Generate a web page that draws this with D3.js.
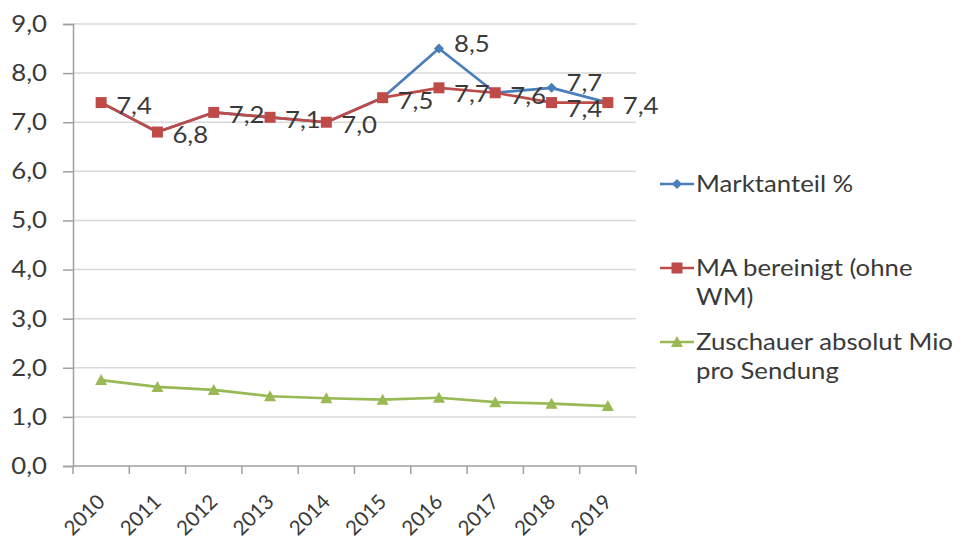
<!DOCTYPE html>
<html>
<head>
<meta charset="utf-8">
<script src="https://cdn.jsdelivr.net/npm/d3@7"></script>
<style>
    body { margin: 0; background: #fff; }
    svg { font-family: Lato, "Liberation Sans", sans-serif; }
</style>
</head>
<body>
<svg id="chart" width="963" height="543"></svg>
<script>
// Chart data
const years = ['2010', '2011', '2012', '2013', '2014', '2015', '2016', '2017', '2018', '2019'];
const marktanteil = [7.4, 6.8, 7.2, 7.1, 7.0, 7.5, 8.5, 7.6, 7.7, 7.4];
const maBereinigt = [7.4, 6.8, 7.2, 7.1, 7.0, 7.5, 7.7, 7.6, 7.4, 7.4];
const zuschauer = [1.75, 1.61, 1.55, 1.42, 1.38, 1.35, 1.39, 1.30, 1.27, 1.22];
const yTicks = [0, 1, 2, 3, 4, 5, 6, 7, 8, 9];

const series = [
    { name: ['Marktanteil %'], values: marktanteil, color: '#4a7ebb', marker: 'diamond' },
    { name: ['MA bereinigt (ohne', 'WM)'], values: maBereinigt, color: '#be4b48', marker: 'square' },
    { name: ['Zuschauer absolut Mio', 'pro Sendung'], values: zuschauer, color: '#98b954', marker: 'triangle' }
];

const fmt = v => v.toFixed(1).replace('.', ',');
const FONT = 23;
const SX = 1.12; // the reference text is a bit wide

const svg = d3.select('#chart');
const plot = { left: 73, right: 636, top: 24, bottom: 466 };

const x = d3.scaleBand()
    .domain(years)
    .range([plot.left, plot.right]);

const y = d3.scaleLinear()
    .domain([0, 9])
    .range([plot.bottom, plot.top]);

const cx = d => x(d) + x.bandwidth() / 2;

// widen a text horizontally around its anchor point
function widen(sel, ax, ay) {
    sel.attr('transform', `translate(${ax},${ay}) scale(${SX},1) translate(${-ax},${-ay})`);
}

// Gridlines
svg.append('g')
    .selectAll('line')
    .data(yTicks.filter(t => t > 0))
    .join('line')
    .attr('x1', plot.left)
    .attr('x2', plot.right)
    .attr('y1', d => y(d))
    .attr('y2', d => y(d))
    .attr('stroke', '#d9d9d9')
    .attr('stroke-width', 1.5);

// Y axis
const yAxis = svg.append('g')
    .attr('transform', `translate(${plot.left},0)`)
    .call(d3.axisLeft(y).tickValues(yTicks).tickFormat(fmt).tickSize(10).tickPadding(16));
yAxis.select('.domain').attr('stroke', '#a0a0a0').attr('stroke-width', 1.5);
yAxis.selectAll('.tick line').attr('stroke', '#a0a0a0').attr('stroke-width', 1.5);
yAxis.selectAll('.tick text')
    .attr('font-size', FONT)
    .attr('fill', '#3a3a3a')
    .attr('font-family', 'Lato, "Liberation Sans", sans-serif')
    .each(function() {
        widen(d3.select(this), -26, 0);
    });

// X axis with ticks at band edges
const xAxis = svg.append('g')
    .attr('transform', `translate(0,${plot.bottom})`);
xAxis.append('line')
    .attr('x1', plot.left)
    .attr('x2', plot.right)
    .attr('stroke', '#a0a0a0')
    .attr('stroke-width', 1.5);
xAxis.selectAll('line.edge')
    .data(years.concat(['end']))
    .join('line')
    .attr('class', 'edge')
    .attr('x1', (d, i) => i < years.length ? x(d) : x.range()[1])
    .attr('x2', (d, i) => i < years.length ? x(d) : x.range()[1])
    .attr('y1', 0)
    .attr('y2', 8)
    .attr('stroke', '#a0a0a0')
    .attr('stroke-width', 1.5);
xAxis.selectAll('text')
    .data(years)
    .join('text')
    .attr('transform', d => `translate(${cx(d) + 5},37) rotate(-45)`)
    .attr('text-anchor', 'end')
    .attr('font-size', 20.5)
    .attr('fill', '#3a3a3a')
    .text(d => d);

// Marker drawing
function drawMarker(g, type, color) {
    if (type === 'diamond') {
        g.append('path').attr('d', 'M0,-5L5,0L0,5L-5,0Z').attr('fill', color);
    } else if (type === 'square') {
        g.append('rect').attr('x', -5.5).attr('y', -5.5).attr('width', 11).attr('height', 11).attr('fill', color);
    } else {
        g.append('path').attr('d', 'M0,-6L6,5L-6,5Z').attr('fill', color);
    }
}

const line = d3.line()
    .x((d, i) => cx(years[i]))
    .y(d => y(d));

// Lines and markers
series.forEach(s => {
    const g = svg.append('g');
    g.append('path')
        .datum(s.values)
        .attr('d', line)
        .attr('fill', 'none')
        .attr('stroke', s.color)
        .attr('stroke-width', 2.7)
        .attr('stroke-linejoin', 'round');
    s.values.forEach((v, i) => {
        const m = g.append('g')
            .attr('transform', `translate(${cx(years[i])},${y(v)})`);
        drawMarker(m, s.marker, s.color);
    });
});

// Data labels: all of MA bereinigt, plus Marktanteil where it differs
const labels = svg.append('g')
    .attr('font-size', FONT)
    .attr('fill', '#3a3a3a');
function addLabel(i, v, shift) {
    const lx = cx(years[i]) + 15;
    const ly = y(v) + shift;
    labels.append('text')
        .attr('x', lx)
        .attr('y', ly)
        .attr('dy', '0.35em')
        .text(fmt(v))
        .call(widen, lx, ly);
}
marktanteil.forEach((v, i) => {
    if (v !== maBereinigt[i]) addLabel(i, v, -5);
});
maBereinigt.forEach((v, i) => addLabel(i, v, marktanteil[i] > v ? 6 : 3));

// Legend
const legend = svg.append('g').attr('transform', 'translate(660,0)');
const legendY = [184, 268, 342];
series.forEach((s, i) => {
    const g = legend.append('g').attr('transform', `translate(0,${legendY[i]})`);
    g.append('line')
        .attr('x1', 0).attr('x2', 34)
        .attr('stroke', s.color)
        .attr('stroke-width', 2.5);
    const m = g.append('g').attr('transform', 'translate(17,0)');
    drawMarker(m, s.marker, s.color);
    s.name.forEach((t, j) => {
        g.append('text')
            .attr('x', 36)
            .attr('y', j * 29)
            .attr('dy', '0.35em')
            .attr('font-size', FONT)
            .attr('fill', '#3a3a3a')
            .text(t)
            .call(widen, 36, j * 29);
    });
});
</script>
</body>
</html>
